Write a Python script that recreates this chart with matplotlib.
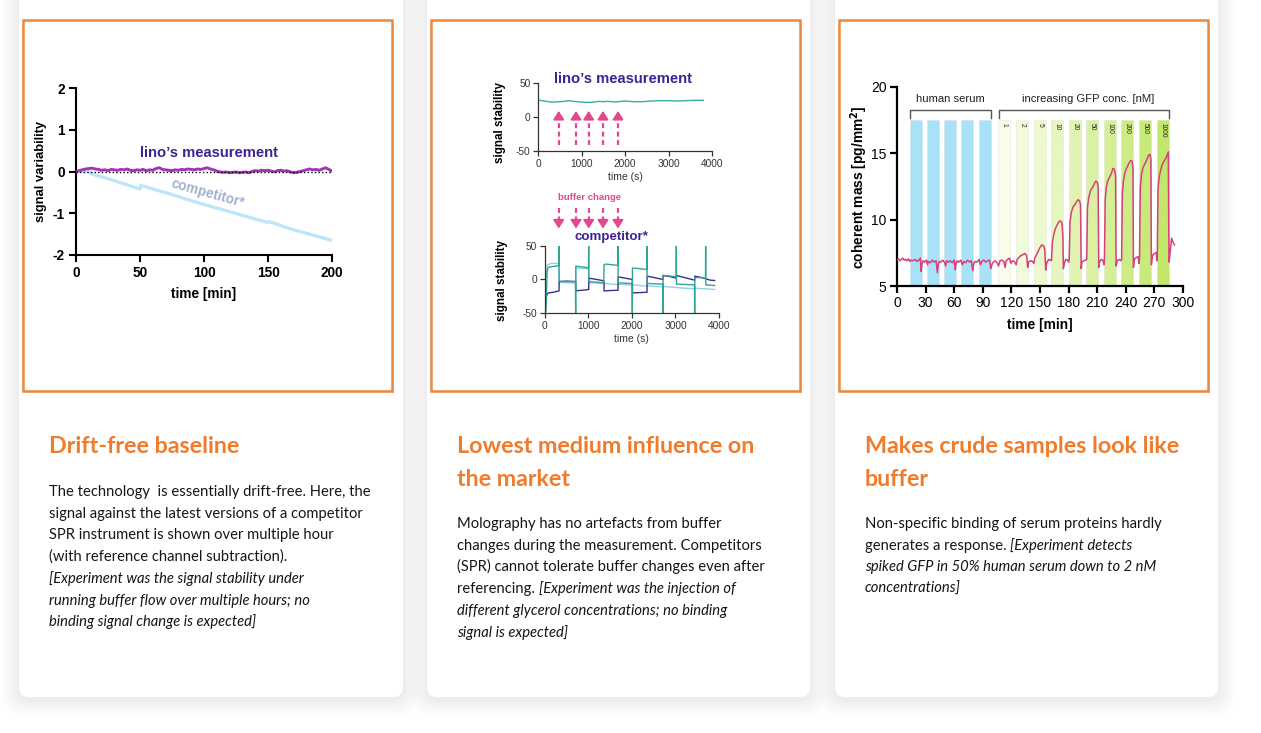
import numpy as np
import matplotlib
matplotlib.use('Agg')
import matplotlib.pyplot as plt
from matplotlib.patches import FancyBboxPatch, Rectangle
import matplotlib.transforms as mtransforms

plt.rcParams['font.family'] = ['Liberation Sans', 'DejaVu Sans']
plt.rcParams['axes.unicode_minus'] = False

# ---------------- DATA ----------------
# Panel 1: drift over time
lino_t = np.arange(0, 200.1, 2.5)
lino_v = [0.00, 0.02, 0.04, 0.06, 0.07, 0.08, 0.06, 0.05, 0.03, 0.04,
          0.02, 0.05, 0.04, 0.03, 0.05, 0.04, 0.06, 0.03, 0.02, 0.04,
          0.03, 0.05, 0.02, 0.04, 0.03, 0.07, 0.09, 0.05, 0.04, 0.03,
          0.02, 0.04, 0.03, 0.05, 0.04, 0.06, 0.05, 0.04, 0.06, 0.05,
          0.07, 0.09, 0.06, 0.04, 0.01, -0.01, -0.02, -0.01, -0.03, -0.02,
          -0.01, -0.03, -0.02, -0.01, -0.03, 0.00, 0.02, 0.01, 0.03, 0.02,
          0.03, 0.01, -0.01, 0.02, 0.03, 0.01, 0.02, -0.01, -0.03, -0.02,
          0.00, 0.02, 0.04, 0.06, 0.04, 0.05, 0.03, 0.06, 0.09, 0.05,
          0.01]
comp_t = [0, 5, 10, 12, 20, 30, 40, 50, 50.5, 60, 75, 90, 100, 115, 130, 145, 150, 151, 165, 180, 200]
comp_v = [0.0, 0.01, 0.0, -0.06, -0.13, -0.22, -0.32, -0.42, -0.33, -0.42, -0.55, -0.70,
          -0.79, -0.92, -1.05, -1.18, -1.22, -1.20, -1.35, -1.48, -1.65]
p1_xticks = [0, 50, 100, 150, 200]
p1_yticks = [-2, -1, 0, 1, 2]

# Panel 2 top: lino signal stability
p2a_t = [0, 100, 200, 300, 400, 500, 600, 700, 800, 900, 1000, 1100, 1200, 1300, 1400,
         1500, 1600, 1700, 1800, 1900, 2000, 2200, 2400, 2600, 2800, 3000, 3200, 3400, 3600, 3800]
p2a_v = [25, 24, 23, 22, 22, 22.5, 23, 24, 23, 22.5, 22, 21.5, 21.5, 22, 23,
         22.5, 23, 22.5, 22, 23, 23.5, 22.5, 22.5, 23.5, 24, 24, 23.5, 24, 24.5, 24.5]
buffer_change_t = [476, 874, 1165, 1494, 1839]

# Panel 2 bottom: competitor, three channels
teal_t = [0, 30, 55, 80, 150, 250, 325, 329, 331, 340, 500, 705, 711, 714, 760, 900, 1005, 1010, 1013, 1030,
          1200, 1355, 1362, 1400, 1550, 1678, 1682, 1685, 1700, 1850, 2008, 2011, 2014, 2050, 2200, 2344, 2348,
          2351, 2370, 2550, 2712, 2715, 2718, 2760, 2900, 3017, 3021, 3024, 3040, 3250, 3438, 3442, 3445, 3480,
          3600, 3690, 3694, 3697, 3720, 3900]
teal_v = [-55, -45, 12, 18, 19, 20, 21, 60, -2, -3, -3, -3.5, -60, 20, 19.5, 18.5, 17, 60, -3, -3,
          -4, -5, 22, 23, 22, 21, 60, -5, -5, -5.5, -6, -60, 17, 17, 16, 15, 60, -6, -6, -6.5,
          -7, -60, 6, 6, 5, 4, 60, -7, -7, -7.5, -8, -60, 3, 3, 2.5, 2, 60, -8, -8, -9]
purple_t = [0, 40, 60, 100, 200, 329, 332, 500, 711, 714, 850, 1010, 1013, 1200, 1360, 1363, 1500, 1682,
            1685, 1850, 2011, 2014, 2200, 2348, 2351, 2500, 2715, 2718, 2900, 3021, 3024, 3200, 3442, 3445,
            3600, 3694, 3697, 3800, 3900]
purple_v = [-50, -25, -21, -20, -19, -17, -3, -2.5, -3, -17, -16, -15, 2, 0, -2, -17, -16.5, -16, 4, 2,
            0, -20, -19.5, -19, 5, 3, 0, 6, 4, 2, 6, 3, -1, 5, 3, 1, 1, -1, -1.5]
lblue_t = [40, 60, 150, 329, 332, 711, 714, 1010, 1013, 1360, 1682, 1685, 2011, 2014, 2348, 2351, 2715,
           2718, 3021, 3024, 3442, 3445, 3694, 3697, 3900]
lblue_v = [5, 22, 24, 24, -4, -5.5, 17, 16, -5, -6, -7.5, -7, -8.5, -8, -10, -9.5, -11, -10.5, -12, -12,
           -14, -13, -14, -14, -15]
p2_xticks = [0, 1000, 2000, 3000, 4000]
p2_yticks = [-50, 0, 50]

# Panel 3: coherent mass in serum with GFP
serum_start = [13.5, 31.5, 49.5, 67.5, 86.0]
gfp_start = [106.4, 125.0, 143.5, 161.7, 180.3, 198.5, 217.0, 235.2, 253.8, 272.3]
gfp_labels = ['1', '2', '5', '10', '20', '50', '100', '200', '500', '1000']
gfp_colors = ['#f8fce9', '#f2fadc', '#ecf8ce', '#e6f6c0', '#e0f3b2', '#daf1a4',
              '#d4ef96', '#cdec88', '#c7ea7a', '#c1e76c']
bar_width = 12.6
bar_top = 17.5
mass_t = [0, 1.5, 3, 4.5, 6, 7.5, 9, 10.5, 12, 13.5, 15, 17, 19, 21, 23, 24.5, 25.3, 26.2, 27.5, 29,
          31, 32, 33, 35, 37, 39, 41, 42.4, 43.2, 44.5, 46, 48, 50, 51, 52, 54, 56, 58, 60, 61,
          62, 63.5, 65, 67, 68.5, 70, 72, 74, 76, 78, 79.5, 80.5, 82, 84, 86, 87.5, 89, 91, 93, 95,
          97, 98.5, 99.5, 101, 103, 105,
          106.5, 108, 110, 112, 113.5, 114.5, 116, 118, 119.5, 121, 123, 125,
          126, 128, 130, 132, 134, 136, 137, 138, 140, 142, 143.5,
          144.5, 146, 148, 150, 152, 154, 155, 156, 157, 159, 161,
          162, 163, 164.5, 166, 168, 170, 171.5, 173, 174, 174.5, 175.5, 177, 179, 180,
          180.6, 181.5, 183, 185, 186.5, 188, 190, 191.5, 192.5, 193.2, 194, 196, 198,
          199, 199.8, 201, 203, 205, 207, 208.5, 210, 211, 211.6, 212.5, 214, 216, 217,
          217.6, 218.4, 219.5, 221, 223, 225, 226.5, 228, 229.3, 229.8, 231, 233, 235,
          235.6, 236.4, 237.5, 239, 241, 243, 245, 246.5, 247.5, 248, 249, 251, 253, 253.8,
          254.4, 255.2, 256.5, 258, 260, 262, 264, 265.5, 266.3, 266.8, 268, 270, 272, 272.5,
          273, 273.8, 275, 276.5, 278, 280, 282, 283.5, 284.6, 285.3, 286.5, 288, 289.5, 291]
mass_v = [6.95, 7.05, 6.9, 7.0, 7.1, 6.95, 7.0, 6.9, 7.05, 6.85, 6.95, 6.9, 7.0, 6.85, 6.95, 7.1, 6.1, 6.7, 6.9, 6.8,
          6.95, 6.6, 6.85, 6.75, 6.95, 6.8, 6.9, 6.0, 6.6, 6.85, 6.8, 6.95, 6.75, 6.5, 6.9, 6.8, 6.9, 6.75, 6.95, 6.2,
          6.7, 6.9, 6.8, 6.95, 6.6, 6.85, 6.75, 6.95, 6.8, 6.9, 6.15, 6.7, 6.85, 6.8, 7.0, 6.6, 6.85, 6.95, 6.8, 6.9,
          6.95, 6.3, 6.6, 6.8, 6.9, 6.75,
          6.5, 6.9, 6.95, 6.85, 6.4, 6.9, 7.0, 7.1, 6.7, 6.9, 6.85, 6.6,
          7.0, 7.15, 7.3, 7.35, 7.45, 7.3, 6.4, 6.8, 6.9, 6.85, 6.7,
          7.1, 7.3, 7.6, 7.9, 8.1, 8.0, 7.7, 6.2, 6.7, 7.0, 6.95,
          6.9, 8.3, 8.9, 9.3, 9.6, 9.85, 9.9, 9.75, 8.8, 6.3, 6.7, 7.0, 6.95, 6.8,
          7.0, 9.8, 10.6, 11.0, 11.1, 11.3, 11.5, 11.4, 11.1, 6.3, 6.8, 6.9, 6.95,
          7.0, 10.9, 11.6, 12.2, 12.4, 12.7, 12.9, 12.8, 12.5, 6.4, 6.8, 7.0, 6.95, 6.6,
          7.1, 11.5, 12.4, 12.9, 13.2, 13.5, 13.85, 13.8, 13.3, 6.5, 6.9, 7.0, 6.9,
          7.0, 12.0, 12.9, 13.5, 13.9, 14.2, 14.45, 14.4, 13.9, 6.4, 7.0, 7.15, 7.2, 6.7,
          7.2, 12.4, 13.4, 13.9, 14.2, 14.5, 14.85, 14.9, 14.5, 6.6, 7.3, 7.45, 7.5, 6.9,
          7.4, 12.3, 13.2, 13.7, 14.1, 14.4, 14.6, 14.9, 15.1, 6.8, 7.5, 8.6, 8.3, 8.1]
p3_xticks = list(range(0, 301, 30))
p3_yticks = [5, 10, 15, 20]

# ---------------- FIGURE ----------------
W, H = 1261, 733
DPI = 100
fig = plt.figure(figsize=(W / DPI, H / DPI), dpi=DPI)
fig.patch.set_facecolor('white')

bg = fig.add_axes([0, 0, 1, 1], zorder=-10)
bg.set_xlim(0, W)
bg.set_ylim(H, 0)
bg.axis('off')


def px_axes(x0, y0, x1, y1):
    ax = fig.add_axes([x0 / W, 1 - y1 / H, (x1 - x0) / W, (y1 - y0) / H])
    ax.set_facecolor('none')
    return ax


ORANGE = '#f07b2b'
BORDER = '#ee873a'

cards = [(19, 403), (427, 810), (835, 1218)]
card_top, card_bot = -30, 697
for (x0, x1) in cards:
    for k in range(18, 0, -1):
        bg.add_patch(FancyBboxPatch((x0 - k, card_top - k + 2), x1 - x0 + 2 * k, card_bot - card_top + 2 * k,
                                    boxstyle='round,pad=0,rounding_size=%d' % (10 + k),
                                    facecolor='black', edgecolor='none', alpha=0.0035))
    bg.add_patch(FancyBboxPatch((x0, card_top), x1 - x0, card_bot - card_top,
                                boxstyle='round,pad=0,rounding_size=10',
                                facecolor='white', edgecolor='none'))

boxes = [(23, 20, 392, 391), (431, 20, 800, 391), (839, 20, 1208, 391)]
for (x0, y0, x1, y1) in boxes:
    bg.add_patch(Rectangle((x0 + 2, y0 + 2), x1 - x0, y1 - y0, facecolor='#d9d9d9',
                           edgecolor='none', alpha=0.6))
    bg.add_patch(Rectangle((x0, y0), x1 - x0, y1 - y0, facecolor='white',
                           edgecolor=BORDER, lw=1.8))

# ---------- Panel 1 ----------
ax1 = px_axes(76, 88, 332, 255)
ax1.plot(comp_t, comp_v, color='#bfe6f8', lw=2.4, zorder=2)
ax1.plot(lino_t, lino_v, color='#a334b5', lw=2.1, zorder=3)
ax1.plot([0, 200], [0, 0], color='black', lw=1.0, ls=(0, (1, 1.6)), zorder=4)
ax1.set_xlim(0, 200)
ax1.set_ylim(-2, 2)
ax1.set_xticks(p1_xticks)
ax1.set_yticks(p1_yticks)
for s in ['top', 'right']:
    ax1.spines[s].set_visible(False)
for s in ['left', 'bottom']:
    ax1.spines[s].set_linewidth(1.5)
ax1.tick_params(width=1.5, length=5, labelsize=9.8, pad=3, colors='black')
for lab in ax1.get_xticklabels() + ax1.get_yticklabels():
    lab.set_fontweight('bold')
ax1.set_xlabel('time [min]', fontsize=9.8, fontweight='bold', va='center')
ax1.xaxis.set_label_coords(0.5, (255 - 294) / 167)
ax1.set_ylabel('signal variability', fontsize=9.4, fontweight='bold', va='center')
ax1.yaxis.set_label_coords((41 - 76) / 256, 0.5)
bg.text(209, 153, 'lino\u2019s measurement', fontsize=10.6, fontweight='bold', color='#3d2394',
        ha='center', va='center')
bg.text(208, 193, 'competitor*', fontsize=9.8, fontweight='bold', color='#a3b1cf',
        ha='center', va='center', rotation=-15.6, rotation_mode='anchor')

# ---------- Panel 2 ----------
PINK = '#e2478f'
GRAY = '#333333'


def style_thin(ax):
    for s in ['top', 'right']:
        ax.spines[s].set_visible(False)
    for s in ['left', 'bottom']:
        ax.spines[s].set_linewidth(0.9)
        ax.spines[s].set_color(GRAY)
    ax.tick_params(width=0.9, length=3.5, labelsize=7.3, pad=2, colors=GRAY)


ax2a = px_axes(538, 83, 712, 151)
ax2a.plot(p2a_t, p2a_v, color='#3aaba5', lw=1.0)
ax2a.set_xlim(0, 4000)
ax2a.set_ylim(-50, 50)
ax2a.set_xticks(p2_xticks)
ax2a.set_yticks(p2_yticks)
style_thin(ax2a)
ax2a.set_xlabel('time (s)', fontsize=7.5, color=GRAY, va='center')
ax2a.xaxis.set_label_coords(0.502, (151 - 177) / 68)
ax2a.set_ylabel('signal stability', fontsize=8.4, fontweight='bold', color='black', va='center')
ax2a.yaxis.set_label_coords((500 - 538) / 174, 0.426)
for t in buffer_change_t:
    ax2a.plot([t, t], [-41, 1], color=PINK, lw=1.6, ls=(0, (2.2, 1.6)))
    ax2a.annotate('', xy=(t, 9), xytext=(t, 0), annotation_clip=False,
                  arrowprops=dict(arrowstyle='-|>,head_length=0.5,head_width=0.32', color=PINK,
                                  lw=1.4, shrinkA=0, shrinkB=0))
bg.text(623, 79, 'lino\u2019s measurement', fontsize=10.6, fontweight='bold', color='#3d2394',
        ha='center', va='center')

ax2b = px_axes(544.7, 246, 719, 313)
ax2b.plot(lblue_t, lblue_v, color='#8fd3e6', lw=1.0)
ax2b.plot(purple_t, purple_v, color='#3c2d8e', lw=1.0)
ax2b.plot(teal_t, teal_v, color='#2fa596', lw=1.0)
ax2b.set_xlim(0, 4000)
ax2b.set_ylim(-50, 50)
ax2b.set_xticks(p2_xticks)
ax2b.set_yticks(p2_yticks)
style_thin(ax2b)
ax2b.set_xlabel('time (s)', fontsize=7.5, color=GRAY, va='center')
ax2b.xaxis.set_label_coords(0.497, (313 - 339) / 67)
ax2b.set_ylabel('signal stability', fontsize=8.4, fontweight='bold', color='black', va='center')
ax2b.yaxis.set_label_coords((502 - 544.7) / 174.3, 0.49)
trans = mtransforms.blended_transform_factory(ax2a.transData, ax2b.transData)
for t in buffer_change_t:
    ax2b.plot([t, t], [107, 86], color=PINK, lw=1.6, ls=(0, (2.2, 1.6)), transform=trans, clip_on=False)
    ax2b.annotate('', xy=(t, 76), xytext=(t, 87), xycoords=trans, textcoords=trans, annotation_clip=False,
                  arrowprops=dict(arrowstyle='-|>,head_length=0.5,head_width=0.32', color=PINK,
                                  lw=1.4, shrinkA=0, shrinkB=0))
bg.text(590, 197, 'buffer change', fontsize=6.8, fontweight='bold', color=PINK, ha='center', va='center')
bg.text(611, 237, 'competitor*', fontsize=9.6, fontweight='bold', color='#3d2394', ha='center', va='center')

# ---------- Panel 3 ----------
ax3 = px_axes(897, 86.7, 1183, 286)
ax3.bar(serum_start, [bar_top - 5] * len(serum_start), width=bar_width, bottom=5, align='edge',
        color='#a9e1f6', edgecolor='#c9d6dc', linewidth=0.5, linestyle=':', zorder=1)
ax3.bar(gfp_start, [bar_top - 5] * len(gfp_start), width=bar_width, bottom=5, align='edge',
        color=gfp_colors, edgecolor='#cfd8c0', linewidth=0.5, linestyle=':', zorder=1)
for xs, lab in zip(gfp_start, gfp_labels):
    ax3.text(xs + bar_width / 2, bar_top - 0.2, lab, rotation=-90, fontsize=4.8, ha='center', va='top',
             color='#222222', zorder=3)
ax3.plot(mass_t, mass_v, color='#d83f7c', lw=1.1, zorder=4)
# brackets
BR = '#555555'
for (xa, xb), lab, xc in [((13.6, 98.6), 'human serum', 56.1), ((107, 285), 'increasing GFP conc. [nM]', 201)]:
    ax3.plot([xa, xa, xb, xb], [17.65, 18.25, 18.25, 17.65], color=BR, lw=1.0, clip_on=False)
    ax3.text(xc, 19.05, lab, fontsize=8.1, color='#222222', ha='center', va='center')
ax3.set_xlim(0, 300)
ax3.set_ylim(5, 20)
ax3.set_xticks(p3_xticks)
ax3.set_yticks(p3_yticks)
for s in ['top', 'right']:
    ax3.spines[s].set_visible(False)
for s in ['left', 'bottom']:
    ax3.spines[s].set_linewidth(1.6)
ax3.tick_params(width=1.6, length=5, labelsize=10, pad=2.5, colors='black')
ax3.set_xlabel('time [min]', fontsize=9.9, fontweight='bold', va='center')
ax3.xaxis.set_label_coords(0.5, (286 - 325) / 199.3)
ax3.set_ylabel('coherent mass [pg/mm$^\\mathbf{2}$]', fontsize=9.9, fontweight='bold', va='center')
ax3.yaxis.set_label_coords((859 - 897) / 286, 0.497)

# ---------- Card texts ----------
renderer = fig.canvas.get_renderer()
BODY_FONT = ['Lato', 'DejaVu Sans']


def text_width(s, size, **kw):
    t = bg.text(0, 0, s, fontsize=size, **kw)
    w = t.get_window_extent(renderer=renderer).width
    t.remove()
    return w


head_size = 14 * 191 / text_width('Drift-free baseline', 14, family=BODY_FONT, fontweight='bold')
body_size = 10 * 321 / text_width('The technology  is essentially drift-free. Here, the', 10, family=BODY_FONT)
space_w = text_width('a a', body_size, family=BODY_FONT) - text_width('aa', body_size, family=BODY_FONT)


def rich_line(x, y, parts):
    cx = x
    for i, (txt, style) in enumerate(parts):
        t = bg.text(cx, y, txt, fontsize=body_size, fontstyle=style, family=BODY_FONT,
                    color='#151515', ha='left', va='baseline')
        cx = t.get_window_extent(renderer=renderer).x1 + space_w


headings = [
    (49, ['Drift-free baseline']),
    (457, ['Lowest medium influence on', 'the market']),
    (865, ['Makes crude samples look like', 'buffer']),
]
for x, lines in headings:
    for i, ln in enumerate(lines):
        bg.text(x, 453 + 33 * i, ln, fontsize=head_size, fontweight='bold', family=BODY_FONT,
                color=ORANGE, ha='left', va='baseline')

R, I = 'normal', 'italic'
body = [
    (49, 496, [
        [('The technology  is essentially drift-free. Here, the', R)],
        [('signal against the latest versions of a competitor', R)],
        [('SPR instrument is shown over multiple hour', R)],
        [('(with reference channel subtraction).', R)],
        [('[Experiment was the signal stability under', I)],
        [('running buffer flow over multiple hours; no', I)],
        [('binding signal change is expected]', I)],
    ]),
    (457, 528, [
        [('Molography has no artefacts from buffer', R)],
        [('changes during the measurement. Competitors', R)],
        [('(SPR) cannot tolerate buffer changes even after', R)],
        [('referencing.', R), ('[Experiment was the injection of', I)],
        [('different glycerol concentrations; no binding', I)],
        [('signal is expected]', I)],
    ]),
    (865, 528, [
        [('Non-specific binding of serum proteins hardly', R)],
        [('generates a response.', R), ('[Experiment detects', I)],
        [('spiked GFP in 50% human serum down to 2 nM', I)],
        [('concentrations]', I)],
    ]),
]
for x, y0, lines in body:
    for i, parts in enumerate(lines):
        rich_line(x, y0 + 21.7 * i, parts)

fig.savefig('out.png', dpi=DPI)
